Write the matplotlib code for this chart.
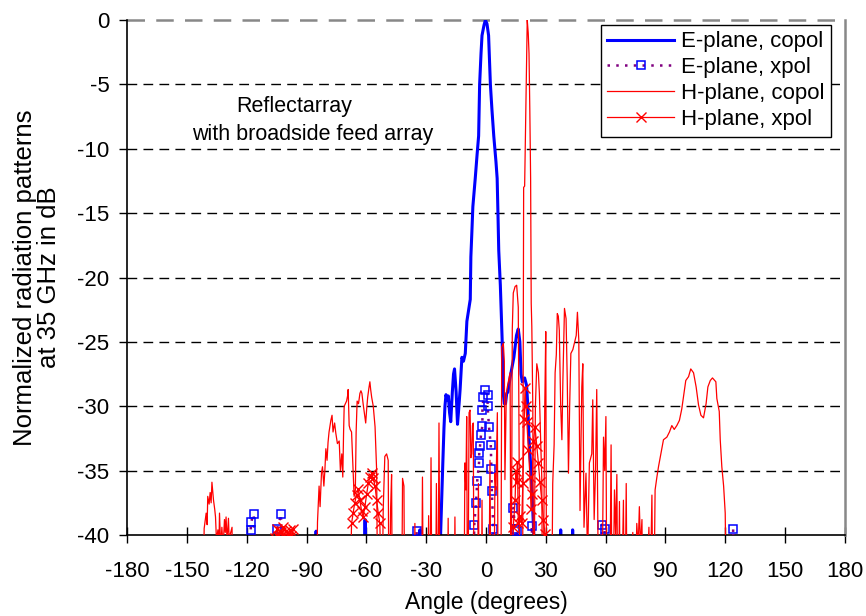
import numpy as np
import matplotlib
matplotlib.use("Agg")
import matplotlib.pyplot as plt

plt.rcParams['font.family'] = ['Liberation Sans', 'DejaVu Sans']
plt.rcParams['axes.unicode_minus'] = False

# E-plane, copol
e_co_ang = [-86.0, -85.3, -84.6, -34.0, -33.2, -32.6,
            -23.3, -22.8, -21.7, -21.1, -20.6, -20.1, -19.5, -18.9, -18.3, -17.7,
            -16.9, -16.3, -15.8, -15.0, -14.3, -13.6, -13.0, -12.1, -11.3, -10.4,
            -9.6, -8.7, -7.9, -7.6, -7.1, -6.6, -5.4, -4.5, -3.7, -3.2, -2.5, -2.0,
            -1.0, -0.3, 0.5, 1.3, 2.2, 3.0, 3.9, 5.0, 5.6, 6.0, 6.4, 7.2, 8.1, 8.6,
            9.2, 9.8, 10.4, 11.0, 12.3, 14.0, 15.3, 16.2, 17.0, 17.6, 18.2, 19.4,
            20.4, 21.0, 21.6, 22.4, 23.2, 24.0, 24.5,
            37.0, 37.5, 38.0, 43.0, 43.5, 44.0]
e_co_db = [-50, -39.7, -50, -50, -39.6, -50,
           -50, -40, -34.5, -31.7, -30.0, -29.1, -29.5, -29.2, -30.5, -31.2,
           -28.9, -27.5, -27.1, -28.9, -31.4, -30.0, -28.7, -26.2, -26.5, -25.9,
           -23.4, -22.5, -21.7, -18.4, -16.5, -14.5, -12.3, -10.5, -9.0, -5.0, -2.6, -1.2,
           -0.4, 0.0, -0.3, -1.2, -5.0, -7.0, -9.0, -11.0, -12.3, -15.0, -17.9, -20.6, -24.8, -28.9,
           -29.8, -29.8, -29.0, -28.9, -27.6, -26.2, -24.5, -24.0, -25.0, -27.5, -28.1, -27.8,
           -28.4, -30.0, -32.5, -34.5, -37.0, -40.0, -50,
           -50, -39.6, -50, -50, -39.6, -50]
# blue blip near -60 deg
e_co_ang2 = [-61.2, -60.7, -60.2]
e_co_db2 = [-50, -38.8, -50]

# E-plane, xpol
e_x_ang = [-119.0, -118.1, -118.0, -116.6, -116.0,
           -105.3, -104.7, -102.9, -102.3,
           -35.5, -34.8, -34.3,
           -6.5, -5.9, -5.0, -4.4, -3.5, -3.4, -3.0, -2.5, -1.8, -1.8, -1.3, -0.3,
           0.8, 0.8, 1.5, 2.4, 2.7, 2.9, 3.7, 4.2,
           13.2, 13.7, 14.6, 15.4, 16.0,
           22.5, 23.0, 23.6,
           57.6, 58.1, 59.5, 60.0,
           123.6, 124.1, 124.6]
e_x_db = [-45, -39.6, -39.0, -38.4, -45,
          -45, -39.5, -38.4, -45,
          -45, -39.7, -45,
          -45, -39.2, -37.5, -35.8, -34.4, -33.6, -33.1, -32.2, -31.5, -30.3, -29.3, -28.7,
          -29.1, -30.0, -31.6, -33.0, -34.9, -36.6, -39.5, -45,
          -45, -37.9, -39.5, -39.7, -45,
          -45, -39.3, -45,
          -45, -39.2, -39.5, -45,
          -45, -39.5, -45]

# H-plane, copol
h_co_ang = [-142.5, -141.5, -140.5, -140.0, -139.7, -139.0, -138.5, -138.0, -137.6, -136.8,
            -136.2, -135.8, -135.3, -134.6, -134.2, -133.8, -133.2, -132.6, -132.0, -131.3,
            -130.9, -130.5, -130.0, -129.3, -128.8, -128.5, -127.5, -127.0,
            -85.5, -84.6, -83.8, -83.3, -82.6, -82.1, -81.4, -80.9, -80.4, -79.8, -79.3,
            -78.8, -77.9, -77.3, -76.8, -76.0, -75.4, -74.6, -73.7, -73.1, -72.4, -71.9,
            -71.5, -71.2, -70.6, -70.0, -69.5, -69.2, -68.7, -68.2, -67.5, -66.7, -66.2,
            -65.6, -65.2, -64.7, -64.0, -63.3, -62.8, -62.3, -61.7, -61.0, -60.4, -59.9,
            -59.4, -58.8, -58.3, -57.9, -57.4, -56.6, -55.7, -54.9, -54.2, -52.5, -51.6,
            -50.8, -49.9, -49.1, -48.6, -47.9, -47.4, -46.9, -42.5, -41.9, -41.2, -40.7,
            -36.2, -35.7, -35.2,
            -32.5, -31.9, -31.3, -29.5, -28.8, -28.3, -27.6, -27.0, -25.5, -24.9, -24.2,
            -23.6, -23.0, -19.5, -19.0, -18.5, -16.2, -15.6, -15.0, -11.2, -10.6, -10.1,
            -9.7, -9.2, -8.5, -8.0, -7.6, -7.2, -6.8, -6.4, -5.9, -4.5, -3.8, -3.2, -2.4,
            -2.0, -1.5, 1.2, 2.0, 2.6, 3.8, 4.5, 5.0, 5.7, 6.2, 7.4, 7.9, 8.7, 9.2, 9.5,
            10.2, 10.7, 11.7, 12.1, 12.6, 13.2, 13.7, 14.6, 15.4, 16.2, 16.6, 17.1, 18.3,
            18.9, 19.4, 20.0, 20.7, 21.2, 21.6, 22.0, 22.4, 22.7, 23.0, 23.5, 23.9, 24.8,
            25.5, 26.3, 26.8, 27.5, 28.0, 28.5, 29.5, 30.0, 30.5, 32.8, 33.5, 34.2, 34.7,
            35.3, 35.8, 36.3, 36.8, 37.5, 38.1, 38.6, 39.4, 40.2, 40.8, 41.4, 42.0, 42.6,
            43.6, 44.7, 45.3, 45.9, 46.6, 47.2, 48.1, 48.6, 49.2, 50.2, 51.0, 51.9, 53.1,
            53.6, 54.3, 55.0, 55.6, 56.3, 57.0, 58.3, 59.0, 59.6, 60.2, 60.8, 62.2, 62.8,
            63.4, 64.5, 65.1, 65.7, 66.3, 67.0, 67.6, 69.0, 69.6, 70.4, 71.0, 73.7, 74.3,
            75.7, 76.4, 77.0, 77.6, 78.3, 79.0, 81.8, 82.4, 83.3, 84.0, 84.9, 85.8, 86.6,
            87.8, 89.1, 90.8, 92.1, 93.3, 94.5, 95.8, 97.1, 98.3, 99.1, 100.3, 101.7,
            102.8, 104.2, 105.5, 106.7, 107.9, 109.2, 110.5, 111.4, 112.6, 113.7, 115.4,
            115.9, 117.1, 117.6, 118.4, 119.3, 120.1, 121.0]
h_co_db = [-50, -39.5, -38.3, -39.2, -37.0, -37.6, -36.7, -37.5, -35.9, -37.3,
           -38.0, -38.6, -40.5, -39.6, -42, -38.3, -41, -39.4, -41, -38.8,
           -39.8, -38.6, -40.5, -38.7, -41, -40, -39.4, -50,
           -50, -39.0, -36.2, -37.8, -35.2, -34.7, -36.2, -35.0, -33.3, -34.2, -32.8,
           -32.0, -31.1, -30.7, -32.0, -31.3, -32.1, -32.9, -32.7, -35.0, -33.7, -35.5,
           -32.0, -30.0, -29.8, -29.6, -29.2, -28.7, -31.5, -31.8, -32.0, -35.0, -37.0,
           -36.5, -32.0, -29.6, -29.8, -29.0, -28.8, -29.0, -29.8, -30.6, -31.3, -30.2,
           -29.3, -28.6, -28.1, -28.7, -29.3, -30.0, -31.6, -35.0, -50, -50, -38,
           -33.9, -33.7, -34.2, -50, -38, -35.3, -50, -50, -35.6, -36.2, -50,
           -50, -39.1, -50,
           -50, -35.5, -50, -50, -38.5, -50, -34.0, -50, -50, -36.0, -50,
           -31.3, -50, -50, -38.7, -50, -50, -38.6, -50, -50, -34.4, -36.5,
           -30.8, -50, -30.5, -30.3, -34.0, -33.7, -31.5, -31.3, -50, -50, -36.0, -50, -50,
           -37.3, -50, -50, -34.2, -50, -50, -35.2, -36.5, -30.5, -50, -50, -25.4, -25.1, -26.5, -35.7,
           -29.0, -28.5, -27.7, -27.4, -50, -24.0, -21.2, -20.7, -20.6, -22.3, -32.6, -50, -50,
           -13.0, -12.9, -6.8, 0.0, -1.0, -2.6, -7.0, -12.3, -22.0, -23.8, -30.0, -50, -30.0,
           -26.7, -27.4, -29.0, -33.0, -35.5, -50, -30.0, -24.2, -50, -50, -36.0, -33.0, -27.4,
           -26.0, -22.8, -23.0, -24.1, -30.0, -32.6, -28.0, -22.4, -23.2, -28.0, -35.2, -30.0, -25.9,
           -25.6, -24.9, -24.5, -22.7, -24.9, -38.1, -28.5, -26.7, -39.4, -35.2, -42, -34.4, -33.7,
           -29.5, -38.8, -35.0, -28.7, -42, -50, -45, -32.4, -35.0, -30.8, -50, -45, -33.0,
           -50, -36.5, -40, -35.3, -50, -37.4, -50, -37.3, -50, -36.0, -50, -39.8, -50,
           -39.1, -41, -37.8, -41, -38.8, -50, -39.4, -45, -36.9, -50, -36.5, -35.5, -34.7,
           -33.7, -32.6, -32.4, -32.0, -31.5, -31.8, -31.5, -31.1, -30.2, -29.3, -28.0, -27.7,
           -27.1, -27.4, -28.5, -29.9, -30.7, -30.9, -29.8, -28.5, -28.0, -27.8, -28.1,
           -29.4, -30.4, -32.6, -34.7, -36.2, -38.3, -50]

# H-plane, xpol
h_x_ang = [-107.0, -106.0, -105.0, -104.3, -103.5, -102.7, -101.9, -101.0, -100.2, -99.3,
           -98.5, -97.7, -96.9, -96.3,
           -68.3, -67.5, -66.7, -65.9, -65.0, -64.2, -63.3, -62.5, -61.7, -60.8, -59.9,
           -59.1, -58.3, -57.4, -56.6, -55.7, -54.9, -54.1, -53.3, -52.5,
           13.0, 13.7, 14.6, 15.0, 15.4, 15.8, 16.2, 17.0, 17.9, 18.5, 19.2, 19.6, 20.1,
           20.5, 21.3, 22.1, 22.6, 23.0, 23.8, 24.6, 25.5, 26.3, 27.1, 28.0, 28.8, 29.6, 30.2]
h_x_db = [-45, -40.2, -39.5, -40.1, -39.7, -39.8, -39.4, -40.2, -39.7, -39.9,
          -39.6, -40.1, -39.5, -45,
          -45, -39.1, -38.3, -37.5, -36.9, -36.4, -37.3, -38.1, -38.6, -37.8, -36.8,
          -36.0, -35.5, -35.2, -35.6, -36.2, -37.3, -38.3, -39.1, -45,
          -45, -39.4, -37.3, -35.0, -35.9, -34.3, -39.1, -38.5, -39.1, -36.0, -31.0, -28.6, -30.0,
          -31.2, -33.4, -35.5, -38.0, -36.8, -32.7, -31.6, -33.1, -34.4, -35.9, -37.3, -38.8, -39.9, -45]

x_ticks = list(range(-180, 181, 30))
y_ticks = list(range(-40, 1, 5))

fig = plt.figure(figsize=(8.66, 6.16), dpi=100)
ax = fig.add_axes([0.1472, 0.1315, 0.828, 0.836])

for yv in y_ticks[1:-1]:
    ax.axhline(yv, color='black', lw=1.0, ls=(0, (7, 4.5)), zorder=0)
ax.axhline(0, color='#888888', lw=1.8, ls=(0, (7, 4.5)), zorder=0, clip_on=False)

ax.plot(e_co_ang, e_co_db, color='#0000ff', lw=2.2, label='E-plane, copol', zorder=2)
ax.plot(e_co_ang2, e_co_db2, color='#0000ff', lw=2.2, zorder=2)
ax.plot(e_x_ang, e_x_db, color='#800080', lw=1.8, ls=(0, (1, 2.5)), marker='s',
        markersize=5.5, markerfacecolor='none', markeredgecolor='#0000ff', markeredgewidth=1.1,
        label='E-plane, xpol', zorder=3)
ax.plot(h_co_ang, h_co_db, color='#ff0000', lw=0.9, label='H-plane, copol', zorder=4)
ax.plot(h_x_ang, h_x_db, color='#ff0000', lw=0.9, marker='x', markersize=7,
        markeredgewidth=1.0, label='H-plane, xpol', zorder=5)

ax.set_xlim(-180, 180)
ax.set_ylim(-40, 0)
ax.set_xticks(x_ticks)
ax.set_yticks(y_ticks)
ax.tick_params(axis='x', direction='inout', length=11, width=1.0, labelsize=16, pad=13)
ax.tick_params(axis='y', direction='out', length=6, width=1.0, labelsize=16, pad=7)

ax.spines['top'].set_visible(False)
ax.spines['right'].set_color('#888888')
ax.spines['right'].set_linewidth(1.8)
ax.spines['left'].set_linewidth(1.2)
ax.spines['bottom'].set_linewidth(1.2)

ax.set_xlabel('Angle (degrees)', fontsize=16.5, labelpad=7)
ax.set_ylabel('Normalized radiation patterns\nat 35 GHz in dB', fontsize=18.5,
              labelpad=12, linespacing=1.0)

ax.text(-96.4, -6.7, 'Reflectarray', fontsize=15.5, ha='center', va='center')
ax.text(-86.9, -8.9, 'with broadside feed array', fontsize=15.5, ha='center', va='center')

leg = ax.legend(loc='upper right', bbox_to_anchor=(0.981, 0.991), borderaxespad=0,
                fontsize=16, fancybox=False, framealpha=1, edgecolor='black',
                handlelength=3.0, handletextpad=0.3, labelspacing=0.22, borderpad=0.3)
leg.get_frame().set_linewidth(1.0)

fig.savefig('out.png', dpi=100)
